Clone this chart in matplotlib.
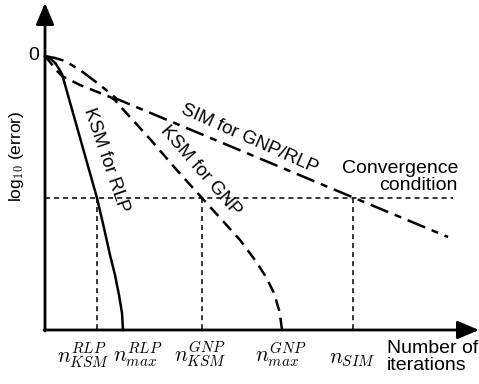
import matplotlib
matplotlib.use("Agg")
import matplotlib.pyplot as plt

plt.rcParams['font.family'] = ['Liberation Sans', 'DejaVu Sans']
plt.rcParams['mathtext.fontset'] = 'cm'

# schematic values (arbitrary units: iterations vs log10 error)
tol = -14.2          # convergence condition
y_floor = -27.4      # where the x axis sits
conv_end = 40.8

n_ksm_rlp = 5.2
n_max_rlp = 7.8
n_ksm_gnp = 15.7
n_max_gnp = 23.7
n_sim = 30.8

ksm_rlp_x = [0, 0.6, 1.1, 1.7, 5.2, 5.9, 6.5, 7.0, 7.4, 7.7, 7.8]
ksm_rlp_y = [0, -0.3, -0.8, -1.8, -14.2, -17.2, -19.9, -21.9, -23.9, -25.7, -27.4]

ksm_gnp_x = [0, 0.5, 1.1, 1.7, 2.5, 3.5, 4.5, 5.5, 6.5, 7.0, 7.5, 8.5, 10.5,
             13.0, 15.7, 17.7, 19.5, 21.0, 22.1, 22.9, 23.4, 23.6, 23.7]
ksm_gnp_y = [0, -0.6, -1.4, -2.0, -2.4, -2.9, -3.3, -3.7, -4.1, -4.4, -5.0, -6.1, -8.3,
             -11.2, -14.2, -16.4, -18.4, -20.4, -22.1, -23.7, -25.4, -26.6, -27.4]

sim_x = [0, 1.0, 2.0, 3.5, 5.5, 7.2, 40.3]
sim_y = [0, -0.2, -0.5, -1.4, -2.9, -4.3, -18.1]

tick_labels = [r'$n_{KSM}^{RLP}$', r'$n_{max}^{RLP}$', r'$n_{KSM}^{GNP}$',
               r'$n_{max}^{GNP}$', r'$n_{SIM}$']
tick_label_x = [3.8, 9.3, 15.5, 23.6, 30.7]

fig = plt.figure(figsize=(4.79, 3.84), dpi=100)
ax = fig.add_axes([0, 0, 1, 1])
ax.set_xlim(-4.5, 43.4)
ax.set_ylim(-32.8, 5.6)
ax.axis('off')

# axes with arrow heads
arrow_kw = dict(arrowstyle='-|>,head_length=1.3,head_width=0.55', lw=2, color='k',
                mutation_scale=10, shrinkA=0, shrinkB=0)
ax.annotate('', xy=(0, 5.3), xytext=(0, y_floor - 0.1), arrowprops=arrow_kw)
ax.annotate('', xy=(43.4, y_floor), xytext=(-0.1, y_floor), arrowprops=arrow_kw)

# convergence level and the iteration markers
thin = dict(color='k', lw=1.1, ls=(0, (3.3, 2.6)), zorder=2)
ax.plot([0, conv_end], [tol, tol], **thin)
for n in (n_ksm_rlp, n_ksm_gnp, n_sim):
    ax.plot([n, n], [tol, y_floor], **thin)

# convergence curves
ax.plot(ksm_rlp_x, ksm_rlp_y, color='k', lw=1.8, zorder=3)
ax.plot(ksm_gnp_x, ksm_gnp_y, color='k', lw=1.8, ls=(0, (4.8, 2.8)), zorder=3)
ax.plot(sim_x, sim_y, color='k', lw=1.8, ls=(0, (7.6, 2.8, 2.8, 2.8)), zorder=3)

fs = 14
ax.text(6.1, -10.4, 'KSM for RLP', rotation=-71, fontsize=13.5, ha='center', va='center',
        rotation_mode='anchor')
ax.text(15.6, -11.5, 'KSM for GNP', rotation=-49, fontsize=13.5, ha='center', va='center',
        rotation_mode='anchor')
ax.text(20.4, -8.3, 'SIM for GNP/RLP', rotation=-24, fontsize=13.5, ha='center', va='center',
        rotation_mode='anchor')
ax.text(41.3, -12.1, 'Convergence\ncondition', fontsize=fs, ha='right', va='center',
        multialignment='right', linespacing=1.0)
ax.text(34.2, -30.1, 'Number of\niterations', fontsize=fs, ha='left', va='center',
        multialignment='left', linespacing=1.0)
ax.text(-0.6, 0, '0', fontsize=fs, ha='right', va='center')
ax.text(-2.8, -10.0, r'log$_{10}$ (error)', fontsize=12.5, rotation=90,
        ha='center', va='center')

for lab, x in zip(tick_labels, tick_label_x):
    ax.text(x, -30.6, lab, fontsize=15.5, ha='center', va='baseline')

fig.savefig('out.png', dpi=100)
